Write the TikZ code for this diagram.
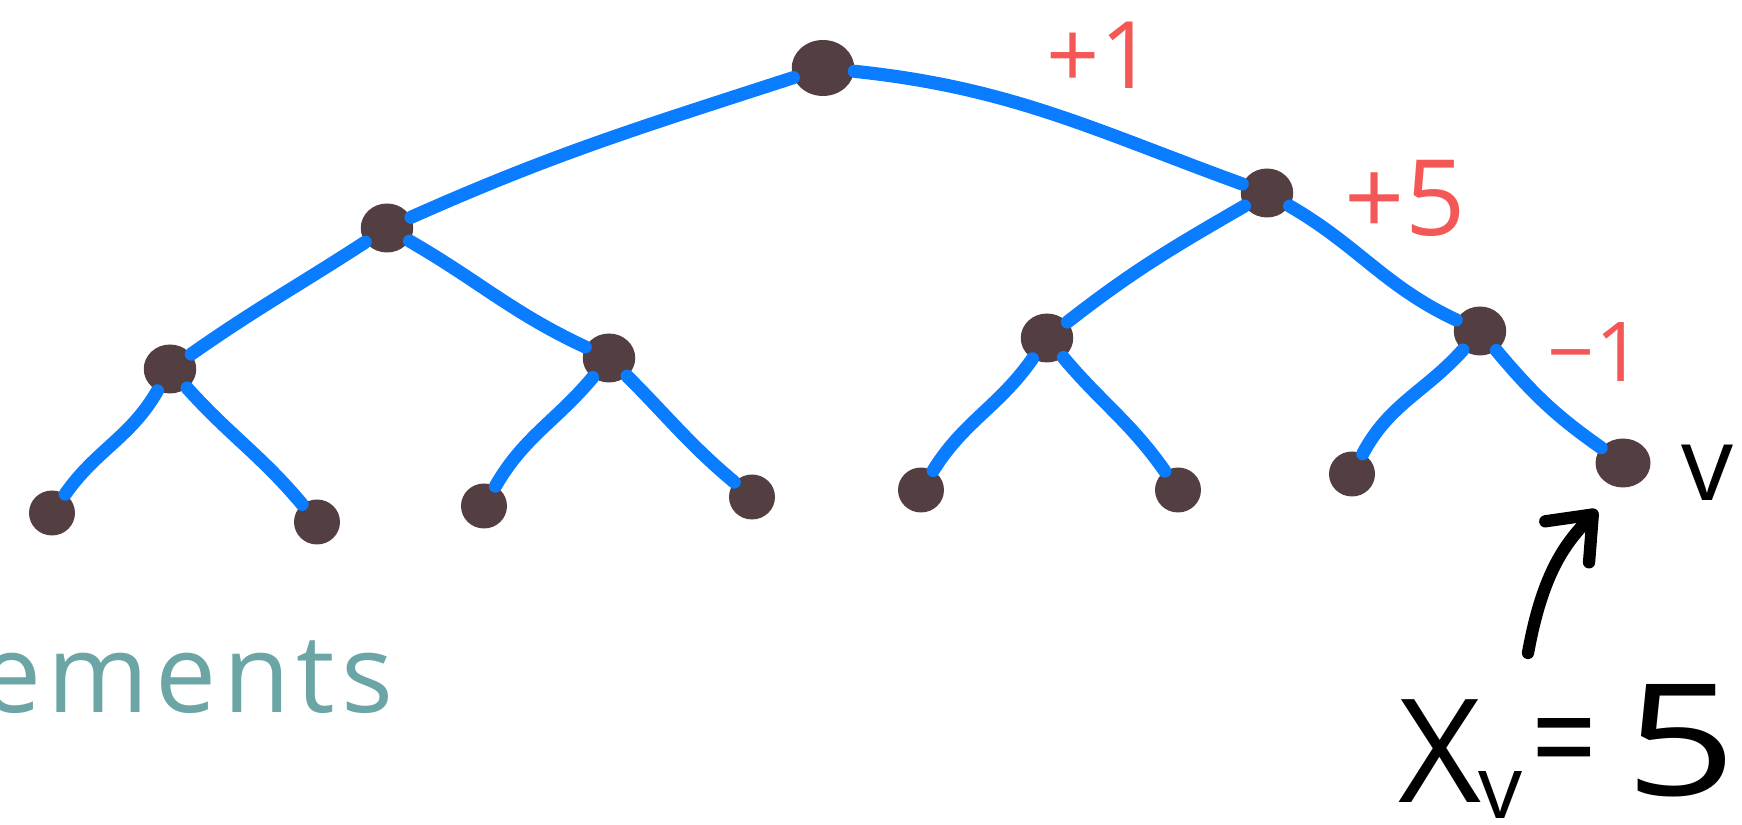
\documentclass[tikz,border=0pt]{standalone}
\usepackage{fontspec}
\setmainfont{Open Sans}
\usepackage{tikz}
\usetikzlibrary{arrows.meta,shapes.geometric}

\definecolor{edgeblue}{RGB}{10,124,255}
\definecolor{blobbrown}{RGB}{83,62,66}
\definecolor{markred}{RGB}{244,88,86}
\definecolor{noteteal}{RGB}{107,165,165}

\begin{document}
\begin{tikzpicture}[
  x=0.02cm, y=0.02cm,
  blob/.style={ellipse,fill=blobbrown,inner sep=0pt,minimum width=1.05cm,minimum height=0.98cm},
  leaf/.style={blob,minimum width=0.92cm,minimum height=0.9cm},
  branch/.style={draw=edgeblue,line width=7.5pt,line cap=round},
  delta/.style={text=markred,inner sep=0pt,font=\fontsize{53}{53}\selectfont},
  pointer/.style={draw=black,line width=7pt,line cap=round,
                  -{Straight Barb[length=0.75cm,width=1.2cm,round]}}
]
  \useasboundingbox (0,0) rectangle (1742,825);

  % tree
  \node[blob,minimum width=1.25cm,minimum height=1.12cm] (root) at (823,757) {};
  \node[blob] (l)  at (387,597) {};
  \node[blob] (r)  at (1267,632) {};
  \node[blob] (ll) at (170,456) {};
  \node[blob] (lr) at (609,467) {};
  \node[blob] (rl) at (1047,487) {};
  \node[blob] (rr) at (1480,494) {};
  \node[leaf] (a1) at (52,312) {};
  \node[leaf] (a2) at (317,303) {};
  \node[leaf] (a3) at (484,319) {};
  \node[leaf] (a4) at (752,328) {};
  \node[leaf] (a5) at (921,335) {};
  \node[leaf] (a6) at (1178,335) {};
  \node[leaf] (a7) at (1352,351) {};
  \node[leaf,minimum width=1.1cm,minimum height=0.98cm] (v) at (1623,362) {};

  \draw[branch] (root) to[out=198,in=24]  (l);
  \draw[branch] (root) to[out=-6,in=160]  (r);
  \draw[branch] (l)    to[out=213,in=35]  (ll);
  \draw[branch] (l)    to[out=-30,in=155] (lr);
  \draw[branch] (r)    to[out=210,in=38]  (rl);
  \draw[branch] (r)    to[out=-30,in=155] (rr);
  \draw[branch] (ll)   to[out=240,in=55]  (a1);
  \draw[branch] (ll)   to[out=-48,in=130] (a2);
  \draw[branch] (lr)   to[out=230,in=60]  (a3);
  \draw[branch] (lr)   to[out=-45,in=140] (a4);
  \draw[branch] (rl)   to[out=235,in=58]  (a5);
  \draw[branch] (rl)   to[out=-50,in=125] (a6);
  \draw[branch] (rr)   to[out=228,in=62]  (a7);
  \draw[branch] (rr)   to[out=-50,in=145] (v);

  % increments
  \node[delta] (d1) at (1100,770) {+1};
  \node[delta,font=\fontsize{60}{60}\selectfont] (d5) at (1405,627) {+5};
  \node[delta,font=\fontsize{47}{47}\selectfont] (dm) at (1595,473) {−1};

  \node[inner sep=0pt,font=\fontsize{59}{59}\selectfont] (vname) at (1707,352) {v};
  \node[inner sep=0pt,anchor=base west,text=noteteal,
        font=\fontsize{62}{62}\selectfont\addfontfeature{LetterSpace=6}] (incr) at (-20,112) {ements};

  % value of v
  \node[inner sep=0pt,anchor=base west,font=\fontsize{82}{82}\selectfont] (xv) at (1398,22)
    {X\kern-0.02em\raisebox{-0.11em}{\fontsize{50}{50}\selectfont v}\kern0.06em%
     \raisebox{0.1em}{\scalebox{0.8}[1]{=}}\kern0.2em\raisebox{0.05em}{\scalebox{1.35}[1.08]{5}}};
  \coordinate (tail) at (1528,172);
  \coordinate (tip) at (1597,315);
  \draw[pointer] (tail) .. controls (1543,255) and (1567,283) .. (tip);
\end{tikzpicture}
\end{document}
